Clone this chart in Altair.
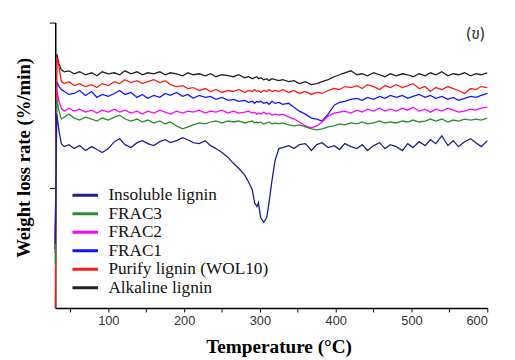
import altair as alt
import pandas as pd

# Temperature grid (°C)
temps = [30, 32, 35, 38, 42, 48,
         55, 62, 70, 78, 85, 92, 100,
         108, 115, 122, 130, 138, 145, 152,
         160, 168, 175, 182, 190, 198, 205,
         212, 220, 228, 235, 242, 250, 258,
         265, 272, 280, 285, 290, 293, 296,
         298, 301, 305, 309, 312, 316, 320,
         325, 330, 338, 345, 352, 360, 368,
         375, 382, 390, 398, 405, 412, 420,
         428, 435, 442, 450, 458, 465, 472,
         480, 488, 495, 502, 510, 518, 525,
         532, 540, 548, 555, 562, 570, 578,
         585, 592, 600]

# Weight loss rate, arbitrary (offset) units
alkaline = [60, 258, 248, 242, 240, 241,
            238, 240, 237, 239, 236, 240, 238,
            239, 237, 241, 238, 240, 237, 239,
            238, 240, 237, 239, 238, 236, 239,
            237, 238, 236, 238, 235, 237, 236,
            235, 237, 234, 235, 233, 234, 235,
            233, 234, 232, 233, 231, 233, 232,
            231, 232, 230, 231, 228, 230, 227,
            228, 230, 232, 235, 237, 239, 241,
            237, 238, 236, 239, 237, 235, 238,
            236, 238, 237, 235, 238, 236, 239,
            237, 240, 236, 238, 237, 239, 236,
            238, 237, 239]

purify = [0, 255, 245, 230, 228, 230,
          226, 228, 225, 227, 224, 228, 226,
          230, 228, 232, 229, 231, 228, 230,
          232, 229, 231, 227, 225, 226, 223,
          224, 221, 223, 220, 222, 219, 221,
          220, 222, 219, 221, 220, 222, 220,
          221, 219, 221, 220, 222, 220, 221,
          220, 222, 219, 221, 218, 220, 217,
          219, 218, 221, 223, 222, 225, 224,
          226, 223, 227, 225, 222, 226, 224,
          227, 224, 226, 228, 223, 225, 220,
          224, 222, 225, 223, 221, 218, 223,
          222, 225, 224]

frac1 = [60, 230, 225, 222, 220, 217,
         218, 221, 216, 220, 214, 217, 215,
         218, 221, 217, 219, 214, 217, 213,
         216, 214, 218, 216, 219, 215, 217,
         213, 216, 214, 215, 212, 214, 211,
         212, 210, 211, 209, 210, 208, 210,
         209, 210, 208, 209, 207, 210, 208,
         209, 207, 208, 204, 200, 197, 193,
         192, 190, 197, 206, 209, 210, 212,
         213, 211, 214, 212, 215, 213, 216,
         214, 216, 213, 215, 217, 214, 216,
         213, 215, 212, 214, 211, 213, 215,
         214, 216, 218]

frac2 = [55, 222, 210, 203, 200, 203,
         200, 202, 199, 201, 198, 201, 199,
         202, 199, 201, 198, 200, 197, 200,
         198, 201, 199, 197, 200, 198, 200,
         199, 201, 198, 200, 199, 201, 198,
         200, 198, 199, 200, 198, 199, 197,
         198, 197, 199, 197, 198, 196, 197,
         196, 197, 194, 192, 189, 185, 183,
         185, 189, 195, 198, 199, 200, 198,
         201, 199, 202, 200, 203, 200, 202,
         200, 203, 201, 204, 200, 202, 199,
         202, 200, 203, 201, 199, 200, 202,
         201, 203, 204]

frac3 = [45, 213, 200, 192, 194, 197,
         193, 191, 194, 192, 190, 193, 191,
         194, 196, 192, 190, 192, 189, 191,
         188, 190, 187, 189, 185, 182, 184,
         186, 188, 187, 189, 190, 188, 190,
         189, 190, 188, 189, 190, 188, 189,
         188, 189, 187, 188, 189, 187, 188,
         187, 188, 186, 185, 186, 184, 182,
         181, 182, 184, 185, 187, 186, 188,
         187, 189, 187, 188, 190, 188, 189,
         188, 190, 189, 191, 189, 190, 192,
         190, 192, 189, 191, 190, 192, 191,
         192, 191, 193]

insoluble = [65, 197, 180, 167, 164, 166,
             162, 165, 160, 164, 161, 158, 162,
             169, 172, 166, 163, 168, 170, 167,
             165, 169, 171, 168, 170, 173, 171,
             168, 167, 170, 165, 162, 158, 153,
             147, 142, 135, 128, 120, 107, 103,
             107, 92, 87, 92, 107, 130, 150,
             162, 163, 165, 162, 166, 167, 160,
             166, 168, 163, 165, 161, 167, 164,
             162, 166, 160, 165, 168, 162, 166,
             164, 160, 167, 163, 169, 165, 171,
             167, 175, 165, 170, 164, 169, 172,
             168, 164, 170]

legend_order = ["Insoluble lignin", "FRAC3", "FRAC2", "FRAC1",
                "Purify lignin (WOL10)", "Alkaline lignin"]
legend_colors = ["#1f1f8c", "#2e8b2e", "#ff00ff", "#1414ff", "#ff1a1a", "#222222"]

# drawing order (first drawn = bottom)
draw_series = [("Alkaline lignin", alkaline), ("FRAC1", frac1), ("FRAC2", frac2),
               ("Purify lignin (WOL10)", purify), ("FRAC3", frac3),
               ("Insoluble lignin", insoluble)]

x_tick_values = [50, 100, 150, 200, 250, 300, 350, 400, 450, 500, 550, 600]
y_tick_values = [122, 290]
panel_label = ["(ข)"]

rows = []
for order, (name, vals) in enumerate(draw_series):
    for t, v in zip(temps, vals):
        rows.append({"T": t, "rate": v, "series": name, "ord": order})
df = pd.DataFrame(rows)

lines = alt.Chart(df).mark_line(strokeWidth=1.3).encode(
    x=alt.X("T:Q", scale=alt.Scale(domain=[30, 600], nice=False, zero=False),
            axis=alt.Axis(values=x_tick_values, title="Temperature (°C)",
                          labelExpr="datum.value % 100 == 0 ? datum.label : ''",
                          tickSize=4, labelPadding=3, grid=False,
                          titleX=227, titleY=30, titleFontSize=19.5)),
    y=alt.Y("rate:Q", scale=alt.Scale(domain=[0, 290], nice=False, zero=False),
            axis=alt.Axis(values=y_tick_values, labels=False, tickSize=6, grid=False,
                          title="Weight loss rate (%/min)", titleX=-22, titleY=137,
                          titleBaseline="bottom", titleFontSize=19)),
    color=alt.Color("series:N",
                    scale=alt.Scale(domain=legend_order, range=legend_colors),
                    legend=alt.Legend(orient="none", legendX=16, legendY=168,
                                      title=None, symbolType="stroke",
                                      symbolSize=676, symbolStrokeWidth=3,
                                      labelFont="Liberation Serif", labelFontSize=17.5,
                                      labelColor="#111111", clipHeight=15,
                                      labelLimit=400,
                                      rowPadding=0.8, labelOffset=9, padding=0,
                                      symbolOffset=0)),
    order=alt.Order("ord:Q"),
    detail="series:N",
)

label = alt.Chart(pd.DataFrame({"label": panel_label})).mark_text(
    font="Noto Sans Thai, Loma, Garuda, DejaVu Sans, sans-serif", fontSize=16,
    color="#333333", align="center", baseline="middle"
).encode(x=alt.value(427), y=alt.value(12), text="label:N")

chart = alt.layer(lines, label).properties(
    width=439, height=290,
    autosize=alt.AutoSizeParams(type="none"),
    padding={"left": 48, "top": 12, "right": 20, "bottom": 50},
).configure_view(stroke=None).configure_axis(
    domainColor="black", domainWidth=1.5, tickColor="black", tickWidth=1,
    labelFont="Liberation Sans", labelFontSize=13, labelColor="#333333",
    titleFont="Liberation Serif", titleFontSize=18, titleFontWeight="bold",
    titleColor="black",
)

chart.save("out.html", embed_options={"renderer": "svg", "actions": False})
